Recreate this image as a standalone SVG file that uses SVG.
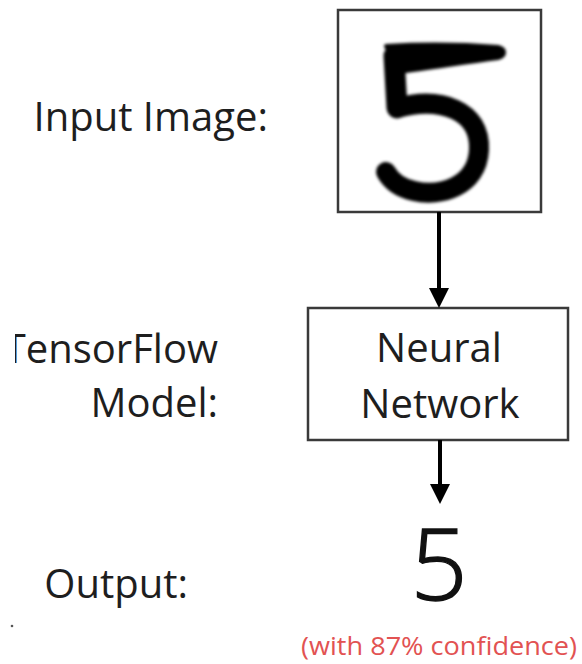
<svg xmlns="http://www.w3.org/2000/svg" width="582" height="664" viewBox="0 0 582 664">
  <style>
    .label { font-family: "Open Sans", "Noto Sans", "Liberation Sans", sans-serif; font-size: 40px; fill: #1e1e1e; }
    .box { fill: #ffffff; stroke: #3a3a3a; stroke-width: 2.5; }
    .edge { stroke: #000000; stroke-width: 4; fill: none; }
    .note { font-family: "Open Sans", "Noto Sans", "Liberation Sans", sans-serif; font-size: 26px; fill: #e25252; }
  </style>
  <defs>
    <!-- 20x20 filled head; refX puts the tip 12px past the line end -->
    <marker id="arrowhead" viewBox="0 0 10 10" refX="4" refY="5" markerWidth="20" markerHeight="20" markerUnits="userSpaceOnUse" orient="auto">
      <path d="M0,0 L10,5 L0,10 z" fill="#000000"/>
    </marker>
    <filter id="soften" x="-20%" y="-20%" width="140%" height="140%">
      <feGaussianBlur stdDeviation="1.6"/>
    </filter>
    <clipPath id="left-crop">
      <rect x="15" y="0" width="567" height="664"/>
    </clipPath>
  </defs>

  <rect width="582" height="664" fill="#ffffff"/>

  <!-- row labels -->
  <g id="label-input">
    <text class="label" x="268" y="131" text-anchor="end">Input Image:</text>
  </g>
  <g id="label-model">
    <text class="label" x="218" y="363" text-anchor="end" clip-path="url(#left-crop)">TensorFlow</text>
    <text class="label" x="218" y="417" text-anchor="end">Model:</text>
  </g>
  <g id="label-output">
    <text class="label" x="188" y="598" text-anchor="end">Output:</text>
    <circle cx="12" cy="626" r="1.3" fill="#555555"/>
  </g>

  <!-- handwritten digit sample -->
  <g id="input-image">
    <rect class="box" x="338" y="10" width="203" height="202"/>
    <g filter="url(#soften)" fill="none" stroke="#000000" stroke-linecap="round" stroke-linejoin="round">
      <path d="M386,46 C420,44 460,44 498,47 C506,49 506,56 498,58 C460,63 430,68 398,72 Z" fill="#000000" stroke-width="4"/>
      <path d="M394,56 L397,108" stroke-width="21"/>
      <path d="M397,108 C440,96 481,110 479,150 C477,187 440,197 414,191 C400,188 391,181 386,172" stroke-width="20"/>
    </g>
  </g>

  <!-- model -->
  <g id="neural-network">
    <rect class="box" x="308" y="308" width="260" height="132"/>
    <text class="label" x="439" y="362" text-anchor="middle">Neural</text>
    <text class="label" x="440" y="418" text-anchor="middle">Network</text>
  </g>

  <!-- prediction -->
  <g id="prediction">
    <text class="label" x="439" y="600" text-anchor="middle" style="font-size:100px;font-weight:300;fill:#111111;stroke:#111111;stroke-width:1.4">5</text>
    <text class="note" x="439" y="655" text-anchor="middle" textLength="276" lengthAdjust="spacingAndGlyphs">(with 87% confidence)</text>
  </g>

  <!-- connectors -->
  <g id="connectors">
    <line class="edge" x1="439" y1="212" x2="439" y2="296" marker-end="url(#arrowhead)"/>
    <line class="edge" x1="440" y1="440" x2="440" y2="492" marker-end="url(#arrowhead)"/>
  </g>
</svg>
